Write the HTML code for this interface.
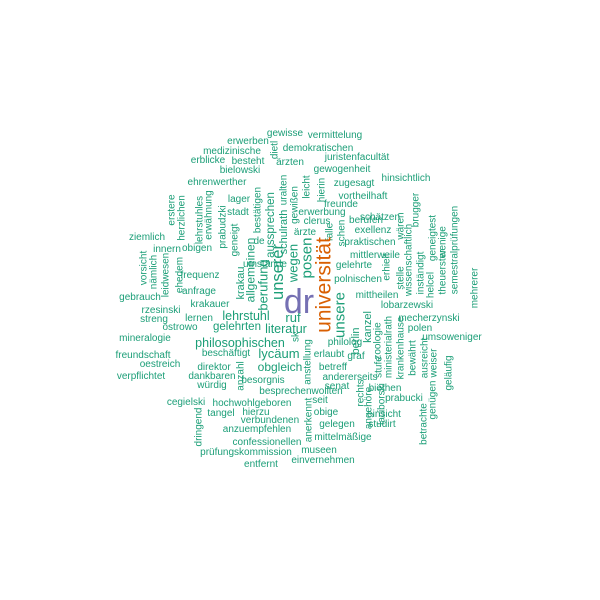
<!DOCTYPE html>
<html><head><meta charset="utf-8">
<style>
html,body{margin:0;padding:0;background:#fff;}
svg{display:block;}
text{font-family:"Liberation Sans",Arial,sans-serif;}
</style></head>
<body>
<svg id="cloud" width="600" height="600" viewBox="0 0 600 600">
<rect width="600" height="600" fill="#fff"/>
<g id="words"></g>
</svg>
<script>
// words, relative weight (font px), layout (x,y center/baseline), rotation
const words = ["gewisse","vermittelung","erwerben","demokratischen","medizinische","juristenfacultät","erblicke","besteht","ärzten","bielowski","gewogenheit","hinsichtlich","ehrenwerther","zugesagt","vortheilhaft","lager","freunde","stadt","schätzen","erwerbung","clerus","berufen","ärzte","exellenz","ziemlich","de","praktischen","innern","obigen","mittlerweile","umstände","gelehrte","frequenz","polnischen","gebrauch","anfrage","mittheilen","krakauer","lobarzewski","rzesinski","lehrstuhl","ruf","mecherzynski","streng","lernen","gelehrten","literatur","ostrowo","polen","mineralogie","philosophischen","philolog","umsoweniger","freundschaft","beschäftigt","lycäum","erlaubt","graf","oestreich","direktor","obgleich","betreff","verpflichtet","dankbaren","andererseits","würdig","besorgnis","senat","besprechenwollten","biethen","prabucki","cegielski","hochwohlgeboren","seit","hierzu","tangel","obige","einsicht","verbundenen","gelegen","studirt","anzuempfehlen","mittelmäßige","confessionellen","prüfungskommission","museen","entfernt","einvernehmen",
"dietl","leicht","hierin","uralten","gewißen","erstere","herzlichen","lehrstuhles","erwähnung","prabudzki","bestätigen","aussprechen","schulrath","brugger","geneigt","wären","falle","schen","wissenschaftlich","erhielt","stelle","inständigt","geneigtest","helcel","wenige","theuerster","semestralprüfungen","mehrerer","vorsicht","nämlich","leidwesen","ehedem","krakau","allgemeinen","berufung","unserer","wegen","posen","universität","unsere","dr","berlin","kanzel","zoologie","ministerialrath","krankenhause","bewährt","ausreicht","weiser","geläufig","genügen","betrachte","rechts","angehöre","stufe","laciborski","anstellung","sk","anzahl","anerkennt","dringend"];
const weights = [10,10,10,10,10,10,10,10,10,10,10,10,10,10,10,10,10,10,10,10,10,10,10,10,10,10,10,10,10,10,10,10,10,10,10,10,10,10,10,10,12.5,13,10,10,10,11.5,12.5,10,10,10,12.5,10,10,10,10,13,10,10,10,10,12,10,10,10,10,10,10,10,10,10,10,10,10,10,10,10,10,10,10,10,10,10,10,10,10,10,10,10,
10,10,10,10,10,10,10,10,10,10,10,11.5,11,10,10,10,10,10,10,10,10,10,10,10,10,10,10,10,10,10,10,10,11,12,13,16.5,13,15,21,15,34,11,11,10,10,10,10,10,10,10,10,10,10,10,10,10,10,10,10,10,10];
const layoutX = [285,335,248,318,232,357,208,248,290,240,342,406,217,354,363,239,341,238,380,322,317,366,305,373,147,259,370,167,197,375,265,354,200,358,140,199,377,210,407,161,246,293,429,154,199,237,286,180,420,145,240,345,452,143,226,279,329,356,160,214,280,333,141,212,350,212,263,337,301,385,404,186,252,320,256,221,326,384,270,337,382,257,343,267,246,319,261,323,
274,306,321,283,294,171,181,199,208,222,257,270,283,415,234,400,329,341,408,386,400,420,432,430,442,442,454,474,143,153,165,179,240,250,263,277,293,306,323,339,299,355,367,377,388,400,412,424,433,448,432,423,360,368,378,381,307,295,240,308,198];
const layoutY = [136,138,144,151,154,160,163,164,165,173,172,181,185,186,199,202,207,215,220,215,224,223,235,233,240,244,245,252,251,258,267,268,278,282,300,294,298,307,308,313,320,322,321,322,321,330,333,330,331,341,347,345,340,358,356,358,357,359,367,370,371,370,379,379,380,388,383,389,394,391,401,405,406,403,415,416,415,417,423,427,427,432,440,445,455,453,467,463,
150,187,190,190,205,210,218,220,215,227,210,225,232,210,240,226,232,233,260,267,278,273,238,285,242,272,250,288,268,272,275,275,283,270,285,272,263,258,285,315,313,341,327,341,347,348,358,358,363,373,400,424,393,408,367,404,362,337,376,420,427];
const rotations = words.map((w,i)=> i>=88 ? -90 : 0);
rotations[words.indexOf("dr")] = 0;
const colorFor = w => w==="universität" ? "#d95f02" : (w==="dr" ? "#7570b3" : "#1b9e77");

const g = document.getElementById('words');
const NS = "http://www.w3.org/2000/svg";
words.forEach((w,i)=>{
  const t = document.createElementNS(NS,'text');
  
  
  const fs = weights[i];
  t.setAttribute('font-size', fs);
  t.setAttribute('fill', colorFor(w));
  t.setAttribute('text-anchor','middle');
  const x = layoutX[i], y = layoutY[i];
  if (rotations[i] !== 0) {
    t.setAttribute('x', 0);
    t.setAttribute('y', fs*0.36);
    t.setAttribute('transform', `translate(${x},${y}) rotate(-90)`);
  } else {
    t.setAttribute('x', x);
    t.setAttribute('y', y);
  }
  t.textContent = w;
  g.appendChild(t);
});
</script>
</body></html>
